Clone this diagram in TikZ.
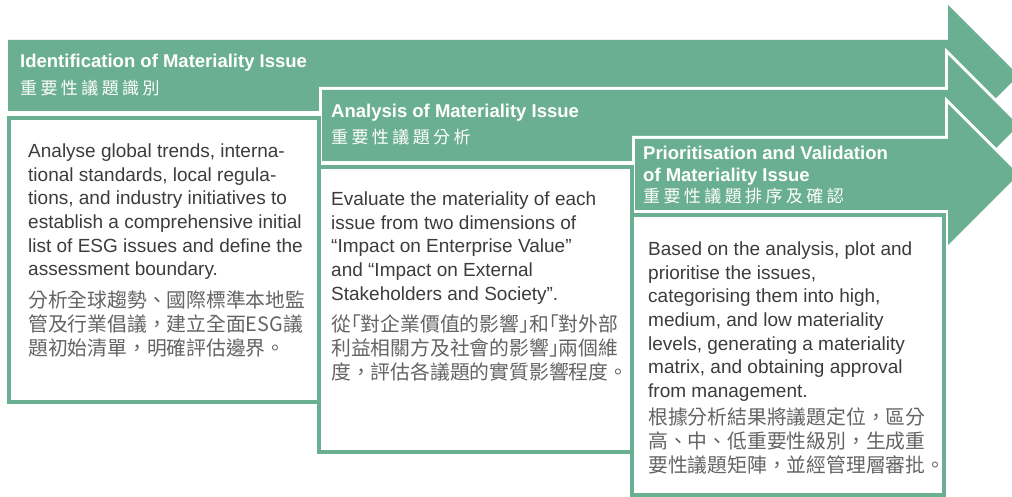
\documentclass[tikz,border=0pt]{standalone}
\usepackage{fontspec}
\setmainfont{Liberation Sans}
\newfontfamily\cjk{Noto Sans CJK TC}
\newfontfamily\cjkhalt[RawFeature=+halt]{Noto Sans CJK TC}
\newfontfamily\cjkhead[LetterSpace=20]{Noto Sans CJK TC}
\usetikzlibrary{positioning}

\definecolor{esggreen}{HTML}{6BAF92}
\definecolor{bodyink}{HTML}{3C3C3C}
\definecolor{zhink}{HTML}{646464}

% half-width corner brackets
\newcommand\qopen{{\cjkhalt 「}}
\newcommand\qclose{{\cjkhalt 」}}

\begin{document}
\begin{tikzpicture}[x=1pt, y=-1pt,
  stagearrow/.style={fill=esggreen, preaction={draw=white, line width=6pt}},
  stagebox/.style={draw=esggreen, line width=4pt, fill=white},
  headen/.style={anchor=base west, inner sep=0pt, text=white, font=\bfseries\fontsize{18.5}{22}\selectfont},
  headzh/.style={anchor=base west, inner sep=0pt, text=white, font=\cjkhead\fontsize{17}{20}\selectfont},
  bodyen/.style={anchor=north west, inner sep=0pt, align=left, text=bodyink, font=\fontsize{19}{23.7}\selectfont},
  bodyzh/.style={anchor=north west, inner sep=0pt, align=left, text=zhink, font=\cjk\fontsize{19.8}{24}\selectfont}
]
\useasboundingbox (0,0) rectangle (1012,497);
\clip (0,0) rectangle (1012,497);
\fill[white] (0,0) rectangle (1012,497);

% three stage arrows, each laid over the one before
\foreach \l/\t in {8/40, 322/90, 635/139}
  \fill[stagearrow] (\l,\t) -- (948,\t) -- (948,\t-35) -- (1018.5,\t+35.5)
    -- (948,\t+106) -- (948,\t+71) -- (\l,\t+71) -- cycle;

% text boxes
\draw[stagebox] (8.5,118) rectangle (318.5,402);
\draw[stagebox] (318.5,167.5) rectangle (631.5,451.5);
\draw[stagebox] (631.5,215.5) rectangle (944,494.5);

% stage titles
\node[headen] (idEn) at (20,68) {Identification of Materiality Issue};
\node[headzh] (idZh) at (20,95) {重要性議題識別};
\node[headen] (anEn) at (331,118) {Analysis of Materiality Issue};
\node[headzh] (anZh) at (331,144) {重要性議題分析};
\node[headen] (prEn) at (643,160) {Prioritisation and Validation};
\node[headen] (prEnB) at (643,182) {of Materiality Issue};
\node[headzh] (prZh) at (643,203) {重要性議題排序及確認};

% stage descriptions
\node[bodyen] (idText) at (28,143.4) {Analyse global trends, interna-\\tional standards, local regula-\\tions, and industry initiatives to\\establish a comprehensive initial\\list of ESG issues and define the\\assessment boundary.};
\node[bodyzh] (idTextZh) at (28,291) {分析全球趨勢、國際標準本地監\\管及行業倡議，建立全面ESG議\\題初始清單，明確評估邊界。};

\node[bodyen] (anText) at (331,191.4) {Evaluate the materiality of each\\issue from two dimensions of\\“Impact on Enterprise Value”\\and “Impact on External\\Stakeholders and Society”.};
\node[bodyzh] (anTextZh) at (331,314.5) {從\qopen 對企業價值的影響\qclose 和\qopen 對外部\\利益相關方及社會的影響\qclose 兩個維\\度，評估各議題的實質影響程度。};

\node[bodyen] (prText) at (648,241.4) {Based on the analysis, plot and\\prioritise the issues,\\categorising them into high,\\medium, and low materiality\\levels, generating a materiality\\matrix, and obtaining approval\\from management.};
\node[bodyzh] (prTextZh) at (648,407.5) {根據分析結果將議題定位，區分\\高、中、低重要性級別，生成重\\要性議題矩陣，並經管理層審批。};
\end{tikzpicture}
\end{document}
